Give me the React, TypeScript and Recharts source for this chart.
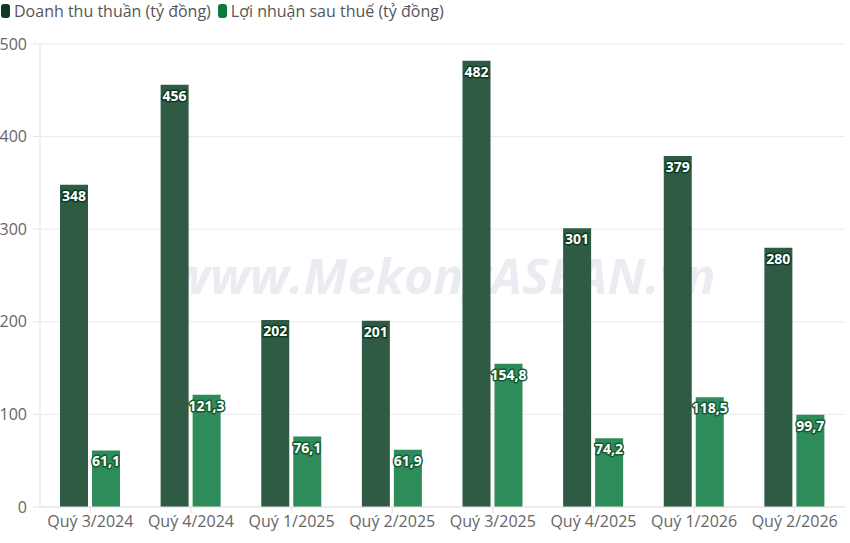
import React from "react";
import { BarChart, Bar, XAxis, YAxis, CartesianGrid, LabelList } from "recharts";

const categories = ["Quý 3/2024", "Quý 4/2024", "Quý 1/2025", "Quý 2/2025", "Quý 3/2025", "Quý 4/2025", "Quý 1/2026", "Quý 2/2026"];
const revenue = [348, 456, 202, 201, 482, 301, 379, 280];
const profit = [61.1, 121.3, 76.1, 61.9, 154.8, 74.2, 118.5, 99.7];
const yTicks = [0, 100, 200, 300, 400, 500];
const seriesNames = ["Doanh thu thuần (tỷ đồng)", "Lợi nhuận sau thuế (tỷ đồng)"];

const data = categories.map((c, i) => ({ name: c, revenue: revenue[i], profit: profit[i] }));

const FONT = "'Open Sans', 'Noto Sans', sans-serif";

const fmt = (v: any) => String(v).replace(".", ",");

const makeLabel = (outline: string) => (props: any) => {
  const { x, y, width, value } = props;
  return (
    <text
      x={x + width / 2}
      y={y + 16}
      textAnchor="middle"
      fill="#ffffff"
      stroke={outline}
      strokeWidth={3}
      strokeLinejoin="round"
      paintOrder="stroke"
      fontSize={14}
      fontWeight={700}
      fontFamily={FONT}
    >
      {fmt(value)}
    </text>
  );
};

export default function App() {
  return (
    <div style={{ position: "absolute", left: 0, top: 0, width: 850, height: 543, background: "#fff", overflow: "hidden" }}>
      <svg width={850} height={543} style={{ position: "absolute", left: 0, top: 0 }}>
        <text
          x={443}
          y={294}
          textAnchor="middle"
          fontFamily={FONT}
          fontStyle="italic"
          fontWeight={700}
          fontSize={48}
          fill="#ebebf2"
          textLength={545}
          lengthAdjust="spacingAndGlyphs"
        >
          www.MekongASEAN.vn
        </text>
      </svg>
      <div style={{ position: "absolute", left: 0, top: 0 }}>
        <BarChart width={850} height={543} data={data} margin={{ top: 44, right: 5, left: 0, bottom: 0 }} barSize={28} barGap={4}>
          <CartesianGrid vertical={false} stroke="#ebebeb" />
          <XAxis
            dataKey="name"
            height={36}
            tickSize={6}
            tickMargin={3}
            axisLine={{ stroke: "#e3e3e3" }}
            tickLine={{ stroke: "#e3e3e3" }}
            tick={{ fill: "#666", fontSize: 16, fontFamily: FONT }}
            interval={0}
          />
          <YAxis
            width={40}
            domain={[0, 500]}
            ticks={yTicks}
            tickSize={7}
            tickMargin={6}
            axisLine={{ stroke: "#e3e3e3" }}
            tickLine={{ stroke: "#e3e3e3" }}
            tick={{ fill: "#666", fontSize: 16, fontFamily: FONT }}
          />
          <Bar dataKey="revenue" name={seriesNames[0]} fill="#2f5a44" isAnimationActive={false}>
            <LabelList dataKey="revenue" content={makeLabel("#0d3a1f")} />
          </Bar>
          <Bar dataKey="profit" name={seriesNames[1]} fill="#2e8b5a" isAnimationActive={false}>
            <LabelList dataKey="profit" content={makeLabel("#145a32")} />
          </Bar>
        </BarChart>
      </div>
      <div style={{ position: "absolute", left: 1, top: 0, display: "flex", alignItems: "center", fontFamily: FONT, fontSize: 16, color: "#555", lineHeight: "22px", whiteSpace: "nowrap" }}>
        <span style={{ display: "inline-block", width: 9, height: 14, borderRadius: 3, background: "#0d3a1f", marginRight: 4 }} />
        <span style={{ marginRight: 7 }}>{seriesNames[0]}</span>
        <span style={{ display: "inline-block", width: 9, height: 14, borderRadius: 3, background: "#0e7a3a", marginRight: 4 }} />
        <span>{seriesNames[1]}</span>
      </div>
    </div>
  );
}
